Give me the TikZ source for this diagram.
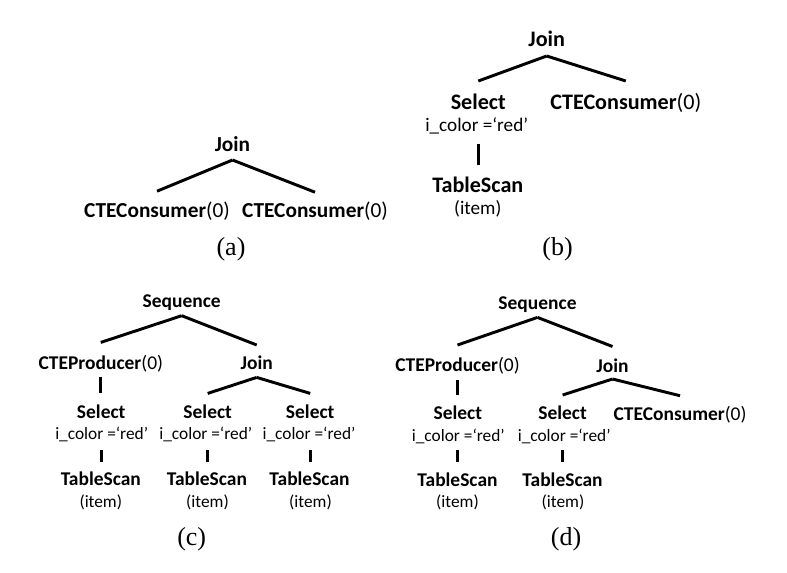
\documentclass[tikz,border=0pt]{standalone}
\usepackage{fontspec}
\setmainfont{Carlito}
\newfontfamily\capfont{Liberation Serif}
\usetikzlibrary{calc}
\tikzset{
  opA/.style={font=\fontsize{16}{19}\selectfont\bfseries, inner sep=0pt, anchor=base},
  opB/.style={font=\fontsize{16.6}{19}\selectfont\bfseries, inner sep=0pt, anchor=base},
  opC/.style={font=\fontsize{14.6}{17}\selectfont\bfseries, inner sep=0pt, anchor=base},
  argB/.style={font=\fontsize{14.4}{17}\selectfont, inner sep=0pt, anchor=base},
  argC/.style={font=\fontsize{13}{15}\selectfont, inner sep=0pt, anchor=base},
  capt/.style={font=\capfont\fontsize{19.5}{23}\selectfont, inner sep=0pt, anchor=base},
  treeedge/.style={line width=2.2pt},
}
\newcommand\zer{\textmd{(0)}}
\newcommand\icol{i\_color =‘red’}
% \tedge{parent}{dy parent}{child}{dy child}
\newcommand\tedge[4]{\draw[treeedge] ($(#1.base)+(0,#2)$) -- ($(#3.base)+(0,#4)$);}
% \vedge{x node}{upper node}{dy}{lower node}{dy}
\newcommand\vedge[5]{\draw[treeedge] ($(#1.base |- #2.base)+(0,#3)$) -- ($(#1.base |- #4.base)+(0,#5)$);}
\begin{document}
\begin{tikzpicture}[x=0.75pt,y=-0.75pt]
\useasboundingbox (0,0) rectangle (787,572);

% ---------- (a)
\node[opA] (ja) at (232.5,151.5) {Join};
\node[opA] (ca1) at (157,217.7) {CTEConsumer\zer};
\node[opA] (ca2) at (315,217.7) {CTEConsumer\zer};
\node[capt] (capa) at (231,255.3) {(a)};
\tedge{ja}{8.5}{ca1}{-26.5}
\tedge{ja}{8.5}{ca2}{-25.5}

% ---------- (b)
\node[opB] (jb) at (546.7,46.7) {Join};
\node[opB] (sb) at (478.3,109.5) {Select};
\node[argB] (ib) at (476.7,131.5) {\icol};
\node[opB] (cb) at (625.8,109) {CTEConsumer\zer};
\node[opB] (tb) at (477.8,192.7) {TableScan};
\node[argB] (mb) at (477.8,214.3) {(item)};
\node[capt] (capb) at (557.5,255.3) {(b)};
\tedge{jb}{9.3}{sb}{-28.5}
\tedge{jb}{9.3}{cb}{-28}
\vedge{sb}{ib}{12}{tb}{-27.5}

% ---------- (c)
\node[opC] (qc) at (181.7,307.7) {Sequence};
\node[opC] (pc) at (100.8,369.4) {CTEProducer\zer};
\node[opC] (jc) at (256.7,369.4) {Join};
\node[opC] (sc1) at (101.2,418.4) {Select};
\node[argC] (ic1) at (101.7,439.5) {\icol};
\node[opC] (tc1) at (100.8,485.7) {TableScan};
\node[argC] (mc1) at (100.8,507.5) {(item)};
\node[opC] (sc2) at (207.7,418.4) {Select};
\node[argC] (ic2) at (205.8,439.5) {\icol};
\node[opC] (tc2) at (206.9,485.7) {TableScan};
\node[argC] (mc2) at (207.5,507.5) {(item)};
\node[opC] (sc3) at (310.2,418.4) {Select};
\node[argC] (ic3) at (309,439.5) {\icol};
\node[opC] (tc3) at (309.5,485.7) {TableScan};
\node[argC] (mc3) at (310.5,507.5) {(item)};
\node[capt] (capc) at (191.7,545.3) {(c)};
\tedge{qc}{8}{pc}{-27}
\tedge{qc}{8}{jc}{-24.4}
\vedge{pc}{pc}{7.3}{sc1}{-25}
\tedge{jc}{8}{sc2}{-25}
\tedge{jc}{8}{sc3}{-25}
\vedge{sc1}{ic1}{10.5}{tc1}{-24}
\vedge{sc2}{ic2}{10.5}{tc2}{-24}
\vedge{sc3}{ic3}{10.5}{tc3}{-24}

% ---------- (d)
\node[opC] (qd) at (537.5,309.4) {Sequence};
\node[opC] (pd) at (457.5,371) {CTEProducer\zer};
\node[opC] (jd) at (612.5,372.5) {Join};
\node[opC] (sd1) at (457.8,419.4) {Select};
\node[argC] (id1) at (458.3,441) {\icol};
\node[opC] (td1) at (457.5,486) {TableScan};
\node[argC] (md1) at (457.5,507.5) {(item)};
\node[opC] (sd2) at (562.6,419.4) {Select};
\node[argC] (id2) at (564.2,441) {\icol};
\node[opC] (td2) at (562.5,486) {TableScan};
\node[argC] (md2) at (563,507.5) {(item)};
\node[opC] (cd) at (680,420) {CTEConsumer\zer};
\node[capt] (capd) at (566,545.3) {(d)};
\tedge{qd}{8}{pd}{-26}
\tedge{qd}{8}{jd}{-26}
\vedge{sd1}{pd}{9}{sd1}{-24.4}
\tedge{jd}{6.5}{sd2}{-24.4}
\tedge{jd}{6.5}{cd}{-24.3}
\vedge{sd1}{id1}{9}{td1}{-24.3}
\vedge{sd2}{id2}{9}{td2}{-24.3}
\end{tikzpicture}
\end{document}
